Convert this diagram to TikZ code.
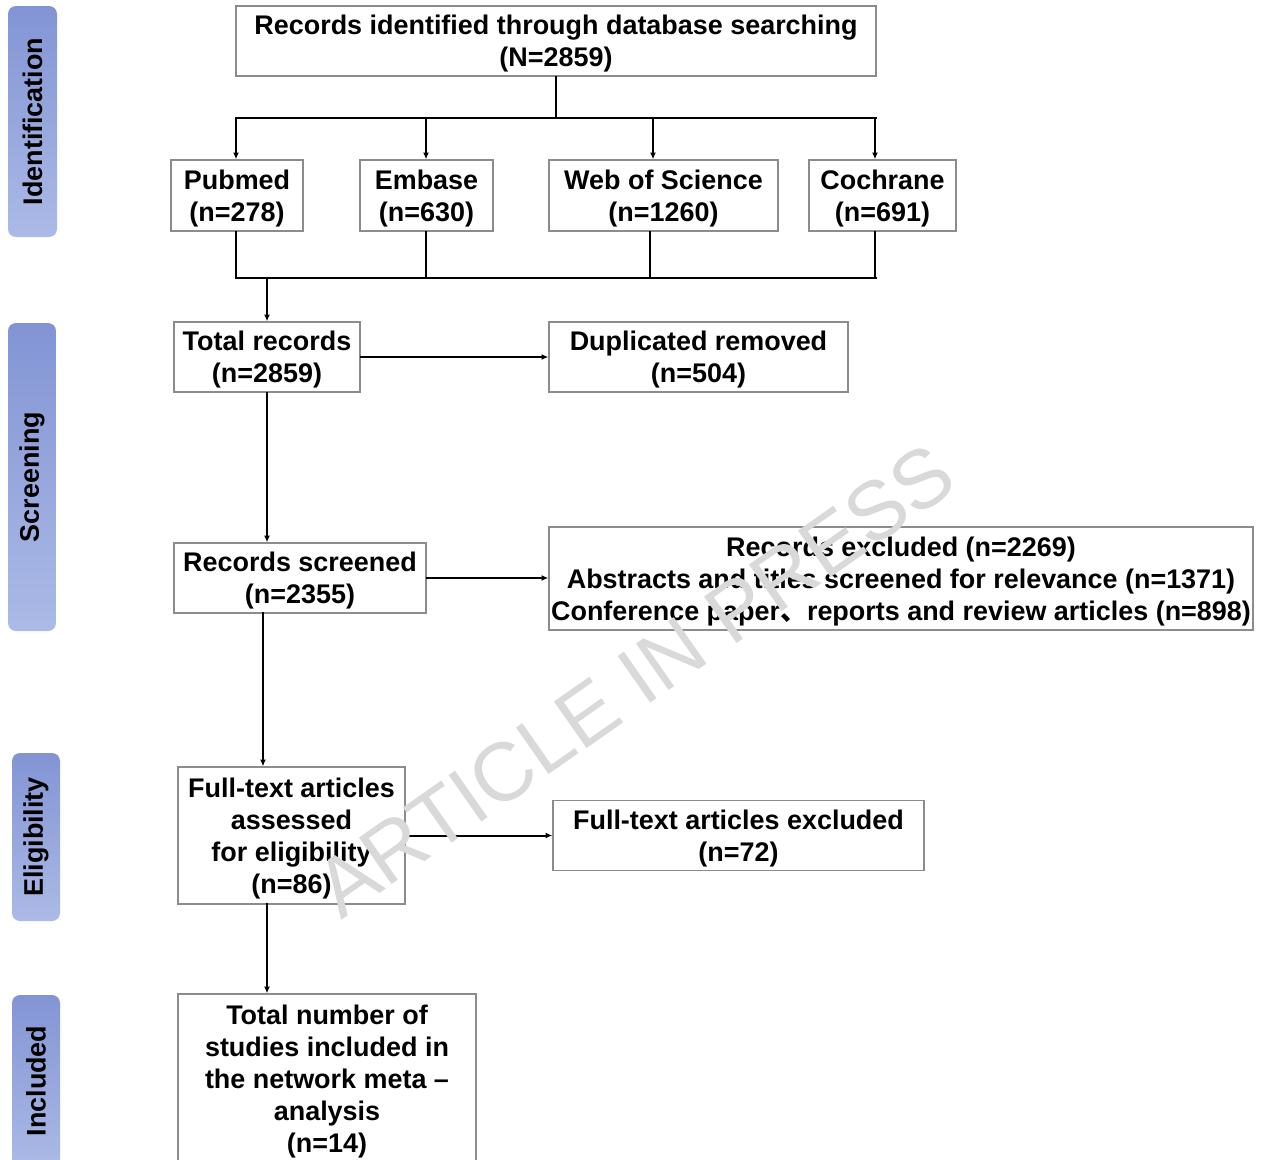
\documentclass[tikz,border=0pt]{standalone}
\usepackage{fontspec}
\setmainfont{Liberation Sans}
\newfontfamily\cjkfont{Noto Sans CJK SC}
\usetikzlibrary{arrows.meta}

\definecolor{boxline}{HTML}{8C8C8C}
\definecolor{stagetop}{HTML}{8294D4}
\definecolor{stagebot}{HTML}{ABBAE6}
\definecolor{wmark}{HTML}{D9D9D9}

\begin{document}
\begin{tikzpicture}[x=0.75pt, y=-0.75pt,
    font=\fontsize{20.2}{24}\selectfont\bfseries,
    box/.style={draw=boxline, line width=1.1pt, fill=white, align=center, inner sep=0pt, text depth=0pt},
    size/.style 2 args={minimum width=#1*0.75pt, minimum height=#2*0.75pt},
    stage/.style={rounded corners=6pt, top color=stagetop, bottom color=stagebot, inner sep=0pt},
    line/.style={line width=1.5pt, line cap=rect},
    >={Latex[length=5pt, width=4.5pt]}]
    \useasboundingbox (0, 0) rectangle (1261, 1160);
    \clip (0, 0) rectangle (1261, 1160);
    \fill[white] (0, 0) rectangle (1261, 1160);

    % stages
    \node (ident) [stage, size={49}{231}] at (32.5, 121.5) {\rotatebox{90}{Identification}};
    \node (screen) [stage, size={48}{308}] at (32, 477) {\rotatebox{90}{Screening}};
    \node (elig) [stage, size={48}{168}] at (36, 837) {\rotatebox{90}{Eligibility}};
    \node (inc) [stage, size={48}{172}] at (36, 1081) {\rotatebox{90}{Included}};

    % boxes
    \node (src) [box, size={640}{70}] at (556, 41) {Records identified through database searching\\(N=2859)};
    \node (pub) [box, size={132}{71}] at (237, 195.5) {Pubmed\\(n=278)};
    \node (emb) [box, size={133}{71}] at (426.5, 195.5) {Embase\\(n=630)};
    \node (wos) [box, size={229}{71}] at (663.5, 195.5) {Web of Science\\(n=1260)};
    \node (coch) [box, size={147}{71}] at (882.5, 195.5) {Cochrane\\(n=691)};

    \node (total) [box, size={186}{70}] at (267, 357) {Total records\\(n=2859)};
    \node (dup) [box, size={299}{70}] at (698.5, 357) {Duplicated removed\\(n=504)};
    \node (scr) [box, size={252}{70}] at (300, 578) {Records screened\\(n=2355)};
    \node (exc) [box, size={704}{103}] at (901, 578.5) {Records excluded (n=2269)\\Abstracts and titles screened for relevance (n=1371)\\Conference paper{\cjkfont 、}reports and review articles (n=898)};

    \node (full) [box, size={227}{137}] at (291.5, 835.5) {Full-text articles\\assessed\\for eligibility\\(n=86)};
    \node (fexc) [box, size={371}{70}] at (738.5, 835.5) {Full-text articles excluded\\(n=72)};
    \node (incl) [box, size={298}{170}] at (327, 1079) {Total number of\\studies included in\\the network meta --\\analysis\\(n=14)};

    % split to databases
    \coordinate (topbus) at (556, 118);
    \coordinate (busL) at (236, 118);
    \coordinate (busR) at (876, 118);
    \draw[line] (src) -- (topbus);
    \draw[line] (busL) -- (busR);
    \foreach \x/\n in {236/pub, 426/emb, 653/wos, 875/coch} {
        \coordinate (tap) at (\x, 118);
        \draw[line, ->] (tap) -- (tap |- \n.north);
    }

    % merge
    \coordinate (botL) at (236, 278);
    \coordinate (botR) at (876, 278);
    \foreach \x/\n in {236/pub, 426/emb, 650/wos, 875/coch} {
        \coordinate (tap) at (\x, 278);
        \draw[line] (tap |- \n.south) -- (tap);
    }
    \draw[line] (botL) -- (botR);
    \draw[line, ->] (total |- botL) -- (total);

    \draw[line, ->] (total) -- (dup);
    \draw[line, ->] (total) -- (total |- scr.north);
    \draw[line, ->] (scr) -- (scr -| exc.west);

    \coordinate (scrout) at (263, 613);
    \draw[line, ->] (scrout) -- (scrout |- full.north);
    \draw[line, ->] (full) -- (fexc);
    \coordinate (fullout) at (267, 904);
    \draw[line, ->] (fullout) -- (fullout |- incl.north);

    % watermark
    \node (wm) [text=wmark, font=\fontsize{62}{62}\selectfont\mdseries, rotate=35] at (635, 680) {ARTICLE IN PRESS};
\end{tikzpicture}
\end{document}
